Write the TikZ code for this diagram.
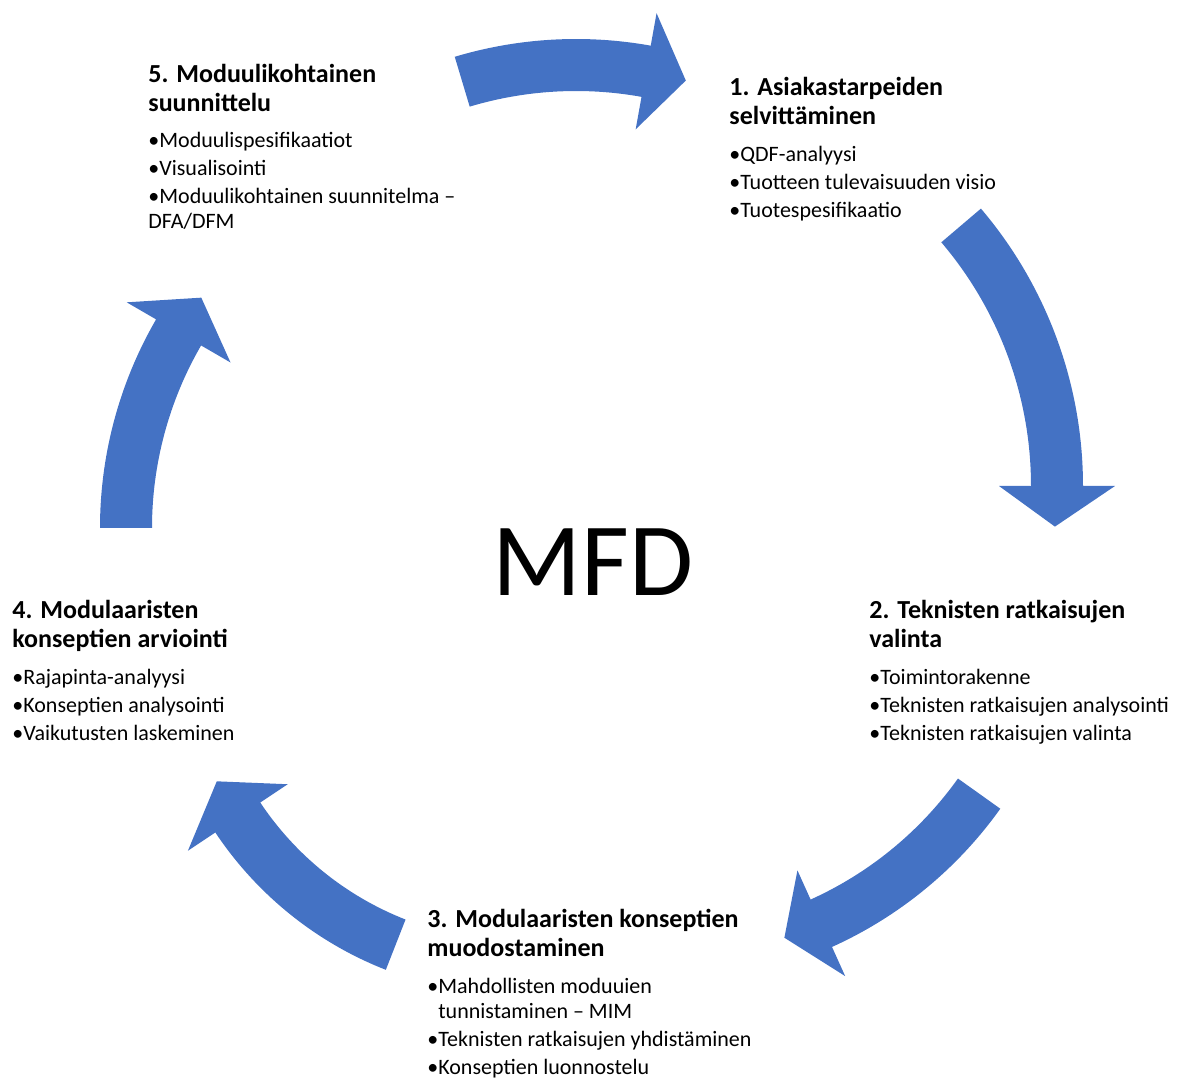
\documentclass[tikz,border=0pt]{standalone}
\usepackage{fontspec}
\setmainfont{Carlito}
\definecolor{cycleblue}{HTML}{4472C4}
\newcommand{\headfont}{\bfseries\fontsize{13}{14.5}\selectfont}
\newcommand{\itemfont}{\fontsize{11}{12.5}\selectfont}
% curved block arrow: centre, radius, tail angle, head base angle, tip angle, half width, half head
\newcommand{\cyclearrow}[7]{%
  \fill[cycleblue] ([shift={(#1)}]#3:#2+#6) arc[start angle=#3, end angle=#4, radius=#2+#6]
    -- ([shift={(#1)}]#4:#2+#7) -- ([shift={(#1)}]#5:#2)
    -- ([shift={(#1)}]#4:#2-#7) -- ([shift={(#1)}]#4:#2-#6)
    arc[start angle=#4, end angle=#3, radius=#2-#6] -- cycle;}

\begin{document}
\begin{tikzpicture}[x=0.5pt, y=0.5pt,
    head/.style={font=\headfont, align=left, anchor=base west, inner sep=0pt},
    items/.style={font=\itemfont, align=left, anchor=base west, inner sep=0pt}]
  \useasboundingbox (0,0) rectangle (1180,-1079);
  % Arrow centres
  \coordinate (c1) at (576,-461);
  \coordinate (c2) at (655,-486);
  \coordinate (c3) at (660,-566);
  \coordinate (c4) at (519,-630);
  \coordinate (c5) at (516,-528);
  % Cycle arrows
  \cyclearrow{c1}{396}{106.7}{79.8}{73.9}{26}{59}
  \cyclearrow{c2}{402}{40.4}{0}{-5.8}{26}{58}
  \cyclearrow{c3}{392}{-35.5}{-65.7}{-71.5}{26}{58}
  \cyclearrow{c4}{338}{248.6}{213.7}{206.6}{27}{60}
  \cyclearrow{c5}{390}{180}{149.9}{143.8}{26}{60}
  % Centre label
  \node[font=\fontsize{52}{60}\selectfont, anchor=base, inner sep=0pt] (mfd) at (593,-596) {MFD};
  % Phase 1 (nodes sit on the baseline of their last line)
  \node[head] (h1) at (729,-125) {1. Asiakastarpeiden\\selvittäminen};
  \node[items] (l1) at (729,-218) {•QDF-analyysi\\[1.5pt]•Tuotteen tulevaisuuden visio\\[1.5pt]•Tuotespesifikaatio};
  % Phase 2
  \node[head] (h2) at (869,-648) {2. Teknisten ratkaisujen\\valinta};
  \node[items] (l2) at (869,-741) {•Toimintorakenne\\[1.5pt]•Teknisten ratkaisujen analysointi\\[1.5pt]•Teknisten ratkaisujen valinta};
  % Phase 3
  \node[head] (h3) at (427,-957) {3. Modulaaristen konseptien\\muodostaminen};
  \node[items] (l3) at (427,-1075) {•Mahdollisten moduuien\\\phantom{•}tunnistaminen – MIM\\[1.5pt]•Teknisten ratkaisujen yhdistäminen\\[1.5pt]•Konseptien luonnostelu};
  % Phase 4
  \node[head] (h4) at (12,-648) {4. Modulaaristen\\konseptien arviointi};
  \node[items] (l4) at (12,-741) {•Rajapinta-analyysi\\[1.5pt]•Konseptien analysointi\\[1.5pt]•Vaikutusten laskeminen};
  % Phase 5
  \node[head] (h5) at (148,-112) {5. Moduulikohtainen\\suunnittelu};
  \node[items] (l5) at (148,-229) {•Moduulispesifikaatiot\\[1.5pt]•Visualisointi\\[1.5pt]•Moduulikohtainen suunnitelma –\\DFA/DFM};
\end{tikzpicture}
\end{document}
